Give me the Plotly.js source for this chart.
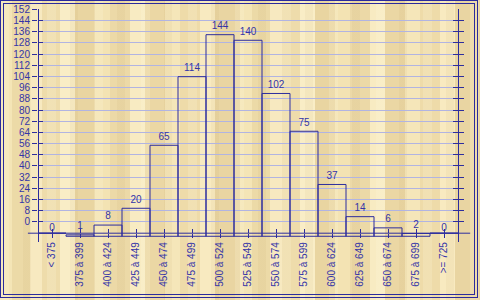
<!DOCTYPE html>
<html><head><meta charset="utf-8">
<script src="https://cdn.plot.ly/plotly-3.0.1.min.js"></script>
<style>
html,body{margin:0;padding:0;background:#f0dfad;}
#wrap{position:relative;width:480px;height:300px;overflow:hidden;
 background:
  repeating-linear-gradient(90deg, rgba(255,250,225,0.18) 0 9px, rgba(0,0,0,0) 9px 23px, rgba(150,110,40,0.05) 23px 31px, rgba(0,0,0,0) 31px 47px),
  repeating-linear-gradient(90deg,
   #f4e5b6 0 12px, #ecdaa7 12px 30px, #f7e9c0 30px 42px, #eedcab 42px 60px,
   #f9edc6 60px 75px, #e9d5a1 75px 95px, #f3e3b3 95px 110px, #ecd9a7 110px 130px,
   #f8ebc2 130px 145px, #ebd7a4 145px 165px, #f5e6b9 165px 180px, #eedba9 180px 200px,
   #f8eac0 200px 215px, #e9d5a2 215px 240px);}
#chart{position:absolute;left:0;top:0;width:480px;height:300px;}
.frame{position:absolute;box-sizing:border-box;border:1px solid #2b2b9c;pointer-events:none;}
</style></head>
<body>
<div id="wrap">
 <div id="chart"></div>
 <div class="frame" style="left:0;top:0;width:478px;height:298px"></div>
 <div class="frame" style="left:3px;top:3px;width:472px;height:292px"></div>
</div>
<script>
const categories = ['< 375','375 à 399','400 à 424','425 à 449','450 à 474','475 à 499','500 à 524','525 à 549','550 à 574','575 à 599','600 à 624','625 à 649','650 à 674','675 à 699','>= 725'];
const counts = [0, 1, 8, 20, 65, 114, 144, 140, 102, 75, 37, 14, 6, 2, 0];
const labelTicks = [0, 8, 16, 24, 32, 40, 48, 56, 64, 72, 80, 88, 96, 104, 112, 120, 128, 136, 144, 152];
const gridTicks = [0, 8, 16, 24, 32, 40, 48, 56, 64, 72, 80, 88, 96, 104, 112, 120, 128, 136, 144];
const catIndex = [0, 1, 2, 3, 4, 5, 6, 7, 8, 9, 10, 11, 12, 13, 14];

const dark = '#2d2d9e';
const textCol = '#3434a8';
const gridCol = '#b1b4e2';
const fnt = {family: 'Liberation Sans, Arial, sans-serif', size: 10, color: textCol};

// the original draws the bars one grid step (8) lower than the scale
const gridRange = [-14.29, 152.14];
const barShift = 8;
const barRange = [gridRange[0] + barShift, gridRange[1] + barShift];
const axisPos = (0 - barRange[0]) / (barRange[1] - barRange[0]);
const xRange = [-0.5, 14.5];
const plotW = 420;

const barBase = counts.map(v => v > 0 ? -2.2 : 0);

const traces = [
 {type: 'bar', x: categories, y: counts, base: barBase, width: 1,
  marker: {color: 'rgba(0,0,0,0)', line: {color: dark, width: 1}},
  hoverinfo: 'skip', showlegend: false},
 {type: 'scatter', mode: 'text', x: categories, y: counts, text: counts.map(String),
  textposition: 'top center', textfont: fnt, cliponaxis: false, hoverinfo: 'skip', showlegend: false},
 {type: 'scatter', mode: 'markers', x: [], y: [], xaxis: 'x2', yaxis: 'y2', showlegend: false, hoverinfo: 'skip'},
 {type: 'scatter', mode: 'markers', x: [], y: [], xaxis: 'x2', yaxis: 'y3', showlegend: false, hoverinfo: 'skip'},
 {type: 'scatter', mode: 'markers', x: [], y: [], xaxis: 'x2', yaxis: 'y4', showlegend: false, hoverinfo: 'skip'},
 {type: 'scatter', mode: 'markers', x: [], y: [], xaxis: 'x2', yaxis: 'y5', showlegend: false, hoverinfo: 'skip'}
];

const yCommon = {range: gridRange, overlaying: 'y', anchor: 'x', zeroline: false, fixedrange: true};

const layout = {
 width: 480, height: 300,
 margin: {l: 38, r: 22, t: 9, b: 58, pad: 0},
 paper_bgcolor: 'rgba(0,0,0,0)', plot_bgcolor: 'rgba(0,0,0,0)',
 bargap: 0, showlegend: false,
 xaxis: {type: 'category', categoryorder: 'array', categoryarray: categories, range: xRange,
  anchor: 'free', position: axisPos, showline: false, showgrid: false, zeroline: false,
  ticks: 'outside', ticklen: 4, tickcolor: dark, tickwidth: 1, tickangle: -90,
  tickfont: fnt, fixedrange: true},
 xaxis2: {overlaying: 'x', range: xRange, tickmode: 'array', tickvals: catIndex,
  anchor: 'free', position: axisPos, showline: false, showgrid: false, zeroline: false,
  ticks: 'inside', ticklen: 4, tickcolor: dark, tickwidth: 1, showticklabels: false, fixedrange: true},
 yaxis: {range: barRange, showgrid: false, zeroline: false, showline: false,
  showticklabels: false, ticks: '', fixedrange: true},
 yaxis2: Object.assign({}, yCommon, {side: 'left', tickmode: 'array', tickvals: labelTicks,
  ticks: 'outside', ticklen: 5, tickcolor: dark, tickwidth: 1, showline: false,
  showgrid: false, tickfont: fnt}),
 yaxis3: Object.assign({}, yCommon, {side: 'left', tickmode: 'array', tickvals: gridTicks,
  ticks: 'inside', ticklen: 5, tickcolor: dark, tickwidth: 1, showline: false,
  showgrid: true, gridcolor: gridCol, gridwidth: 1, showticklabels: false}),
 yaxis4: Object.assign({}, yCommon, {side: 'right', tickmode: 'array', tickvals: gridTicks,
  ticks: 'outside', ticklen: 5, tickcolor: dark, tickwidth: 1, showline: false,
  showgrid: false, showticklabels: false}),
 yaxis5: Object.assign({}, yCommon, {side: 'right', tickmode: 'array', tickvals: gridTicks,
  ticks: 'inside', ticklen: 5, tickcolor: dark, tickwidth: 1, showline: false,
  showgrid: false, showticklabels: false}),
 shapes: [
  {type: 'line', xref: 'paper', yref: 'y', x0: -0.024, x1: 1.029, y0: 0, y1: 0,
   line: {color: dark, width: 1}, layer: 'above'},
  {type: 'line', xref: 'paper', yref: 'paper', x0: 0.5 / plotW, x1: 0.5 / plotW, y0: 0, y1: 1,
   line: {color: dark, width: 1}, layer: 'above'},
  {type: 'line', xref: 'paper', yref: 'paper', x0: 1 + 0.5 / plotW, x1: 1 + 0.5 / plotW, y0: 0, y1: 1,
   line: {color: dark, width: 1}, layer: 'above'}
 ]
};

Plotly.newPlot('chart', traces, layout, {staticPlot: true, displayModeBar: false});
</script>
</body></html>
